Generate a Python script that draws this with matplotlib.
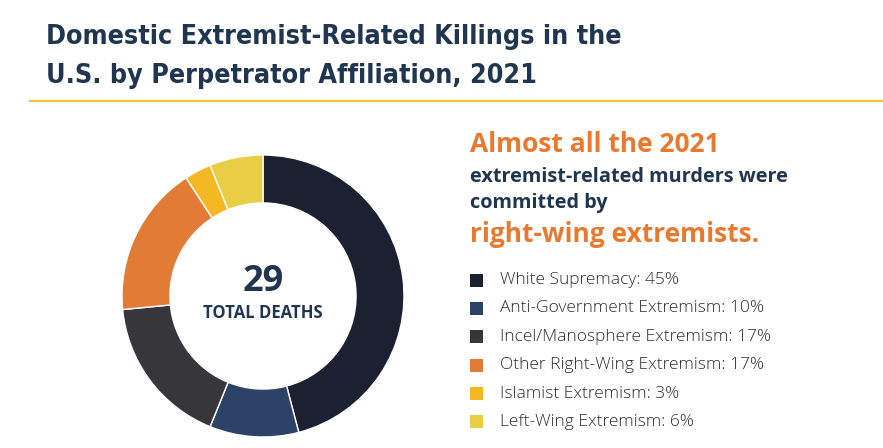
import matplotlib
matplotlib.use("Agg")
import matplotlib.pyplot as plt
from matplotlib.patches import Rectangle

# data
categories = ["White Supremacy", "Anti-Government Extremism", "Incel/Manosphere Extremism",
              "Other Right-Wing Extremism", "Islamist Extremism", "Left-Wing Extremism"]
shares = [45, 10, 17, 17, 3, 6]
colors = ["#1c2131", "#2c4266", "#36363b", "#e27b36", "#f4b922", "#e9cd45"]
total_deaths = 29

W, H = 883, 448
NAVY = "#1f3550"
ORANGE = "#e8792f"


def fx(px):
    return px / W


def fy(py):
    return 1 - py / H


fig = plt.figure(figsize=(W / 100, H / 100), dpi=100)
fig.patch.set_facecolor("white")

# title
fig.text(fx(46), fy(37), "Domestic Extremist-Related Killings in the", fontsize=19.3,
         fontweight="bold", color=NAVY, family="DejaVu Sans", stretch="condensed",
         va="center", ha="left")
fig.text(fx(46), fy(76), "U.S. by Perpetrator Affiliation, 2021", fontsize=19.3,
         fontweight="bold", color=NAVY, family="DejaVu Sans", stretch="condensed",
         va="center", ha="left")
fig.add_artist(plt.Line2D([fx(30), 1.0], [fy(101), fy(101)], color="#e9c42c", lw=1.5))

# donut
cx, cy, r = 263, 296, 141
ax = fig.add_axes([fx(cx - r), fy(cy + r), 2 * r / W, 2 * r / H])
ax.pie(shares, colors=colors, startangle=90, counterclock=False, radius=1,
       wedgeprops=dict(width=0.34, edgecolor="white", linewidth=1))
ax.set_xlim(-1, 1)
ax.set_ylim(-1, 1)
ax.text(0, 0.1, str(total_deaths), ha="center", va="center", fontsize=26,
        fontweight="bold", color=NAVY, family="Open Sans")
ax.text(0, -0.12, "TOTAL DEATHS", ha="center", va="center", fontsize=12,
        fontweight="bold", color=NAVY, family="Open Sans")

# headline text
fig.text(fx(470), fy(145), "Almost all the 2021", fontsize=19, fontweight="bold",
         color=ORANGE, family="Open Sans", va="center")
fig.text(fx(470), fy(177), "extremist-related murders were", fontsize=14.3, fontweight="bold",
         color=NAVY, family="Open Sans", va="center")
fig.text(fx(470), fy(203), "committed by", fontsize=14.3, fontweight="bold",
         color=NAVY, family="Open Sans", va="center")
fig.text(fx(470), fy(234), "right-wing extremists.", fontsize=19, fontweight="bold",
         color=ORANGE, family="Open Sans", va="center")

# legend
row_y = 280
for name, val, col in zip(categories, shares, colors):
    fig.add_artist(Rectangle((fx(470), fy(row_y + 6.5)), 13 / W, 13 / H,
                             facecolor=col, edgecolor="none", transform=fig.transFigure))
    fig.text(fx(500), fy(row_y), f"{name}: {val}%", fontsize=12.5, color="#2e2e30",
             family="Open Sans", fontweight="light", va="center")
    row_y += 28.4

fig.savefig("out.png", dpi=100)
